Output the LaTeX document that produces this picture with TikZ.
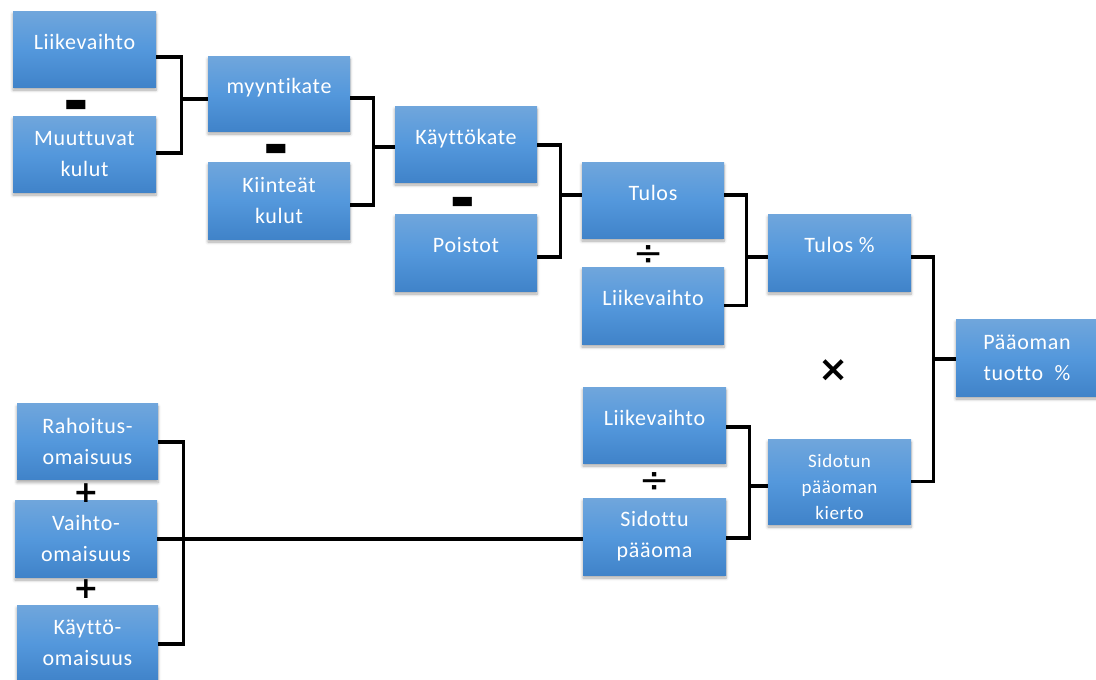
\documentclass[tikz,border=0pt]{standalone}
\usepackage{fontspec}
\setmainfont{Carlito}[Ligatures=NoCommon, LetterSpace=3]
\newfontfamily\symfont{DejaVu Sans}
\usetikzlibrary{calc,shadows.blur}

\definecolor{boxtop}{RGB}{112,166,220}
\definecolor{boxmid}{RGB}{84,152,220}
\definecolor{boxbot}{RGB}{64,131,201}

\tikzset{
  fbox/.style={rectangle, minimum width=142pt, minimum height=76pt,
    inner sep=2pt, top color=boxtop, bottom color=boxbot, middle color=boxmid,
    text=white, align=center,
    font=\fontsize{22}{31}\selectfont,
    blur shadow={shadow xshift=0pt, shadow yshift=-3pt, shadow blur steps=6,
      shadow blur radius=3pt, shadow opacity=35}},
  oneline/.style={text height=16pt, text depth=16pt},
  smalltext/.style={font=\fontsize{19}{26}\selectfont},
  conn/.style={draw=black, line width=3.4pt, line join=miter},
  opminus/.style={inner sep=0pt, font=\symfont\fontsize{25}{25}\selectfont},
  opplus/.style={inner sep=0pt, font=\symfont\bfseries\fontsize{30}{30}\selectfont},
  opdiv/.style={inner sep=0pt, font=\symfont\fontsize{36}{36}\selectfont},
  optimes/.style={inner sep=0pt, font=\symfont\bfseries\fontsize{36}{36}\selectfont}
}

\begin{document}
\begin{tikzpicture}[x=1pt, y=-1pt]
\useasboundingbox (0,0) rectangle (1096,680);

% --- sales margin ---
\node[fbox, oneline, minimum width=143pt] (lv1) at (84.5,49) {Liikevaihto};
\node[fbox, minimum width=143pt] (mk) at (84.5,154) {Muuttuvat\\kulut};
\node[fbox, oneline, minimum height=75pt] (my) at (279,93.5) {myyntikate};
\node[fbox, minimum height=77pt] (kk) at (279,200.5) {Kiinteät\\kulut};
\node[fbox, oneline] (ka) at (466,144) {Käyttökate};
\node[fbox, oneline, minimum height=77pt] (po) at (466,252.5) {Poistot};
\node[fbox, oneline] (tu) at (653,200) {Tulos};
\node[fbox, oneline, minimum height=77pt] (lv2) at (653,305.5) {Liikevaihto};
\node[fbox, oneline, minimum width=143pt, minimum height=77pt] (tp) at (839.5,252.5) {Tulos \%};
\node[fbox, minimum height=77pt] (pt) at (1027,357.5) {Pääoman\\tuotto~~\%};

% --- capital turnover ---
\node[fbox, oneline, minimum width=143pt] (lv3) at (654.5,425) {Liikevaihto};
\node[fbox, minimum width=143pt, minimum height=77pt] (sp) at (654.5,536.5) {Sidottu\\pääoma};
\node[fbox, smalltext, minimum width=143pt, minimum height=85pt] (sk) at (839.5,481.5)
  {\rule{0pt}{24pt}Sidotun\\pääoman\\kierto};

\node[fbox, minimum width=141pt] (ro) at (87.5,441.5) {Rahoitus-\\omaisuus};
\node[fbox, minimum height=77pt] (vo) at (86,538.5) {Vaihto-\\omaisuus};
\node[fbox, minimum width=141pt] (ko) at (87.5,643) {Käyttö-\\omaisuus};

% --- operators ---
\node[opminus] (m1) at (76,105.5) {▬};
\node[opminus] (m2) at (276,149.5) {▬};
\node[opminus] (m3) at (462.5,202.5) {▬};
\node[opdiv] (d1) at (649,256) {÷};
\node[opdiv] (d2) at (655,483) {÷};
\node[optimes] (x1) at (834,371) {×};
\node[opplus] (p1) at (86,493) {+};
\node[opplus] (p2) at (86,589) {+};

% --- brackets ---
\draw[conn] ($(lv1.east)+(0,8)$) -- ++(25,0) |- ($(mk.east)+(0,-1)$);
\draw[conn] ($(my.west)+(0,5.5)$) -- ++(-27,0);

\draw[conn] ($(my.east)+(0,4.5)$) -- ++(23,0) |- ($(kk.east)+(0,4.5)$);
\draw[conn] ($(ka.west)+(0,3)$) -- ++(-22,0);

\draw[conn] ($(ka.east)+(0,1)$) -- ++(23,0) |- ($(po.east)+(0,4.5)$);
\draw[conn] ($(tu.west)+(0,-5)$) -- ++(-22,0);

\draw[conn] ($(tu.east)+(0,-5)$) -- ++(22,0) |- (lv2.east);
\draw[conn] ($(tp.west)+(0,4.5)$) -- ++(-22,0);

\draw[conn] ($(tp.east)+(0,4.5)$) -- ++(22,0) |- (sk.east);
\draw[conn] ($(pt.west)+(0,1.5)$) -- ++(-23,0);

\draw[conn] ($(lv3.east)+(0,2)$) -- ++(23,0) |- ($(sp.east)+(0,1.5)$);
\draw[conn] ($(sk.west)+(0,4.5)$) -- ++(-19,0);

\draw[conn] ($(ro.east)+(0,0.5)$) -- ++(25,0) |- ($(ko.east)+(0,1)$);
\draw[conn] ($(vo.east)+(0,0.5)$) -- ($(sp.west)+(0,2.5)$);
\end{tikzpicture}
\end{document}
